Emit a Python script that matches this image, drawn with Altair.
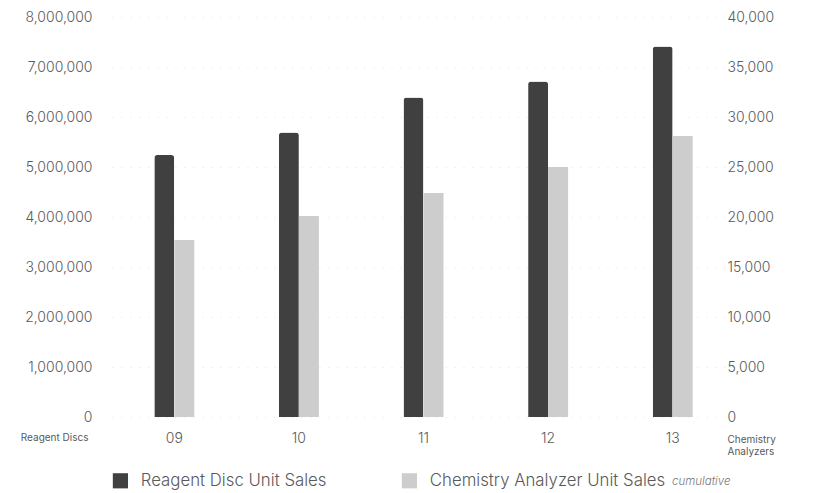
import altair as alt
import pandas as pd

years = ["09", "10", "11", "12", "13"]
reagent_discs = [5240000, 5690000, 6390000, 6710000, 7410000]
chem_analyzers = [17700, 20100, 22400, 25000, 28100]

series_names = ["Reagent Disc Unit Sales", "Chemistry Analyzer Unit Sales"]
series_colors = ["#404040", "#cdcdcd"]

df = pd.DataFrame({"year": years, "reagent": reagent_discs, "analyzers": chem_analyzers})

FONT = "Inter"
TXT = "#5a5a5a"

xenc = alt.X("year:N", sort=years,
             scale=alt.Scale(paddingInner=0, paddingOuter=0),
             axis=alt.Axis(title=None, labelAngle=0, domain=False, ticks=False, tickSize=0,
                           labelPadding=14, labelFontSize=14, labelFont=FONT,
                           labelColor=TXT, labelFontWeight=300))

color = alt.Color(scale=alt.Scale(domain=series_names, range=series_colors),
                  legend=alt.Legend(title=None, orient="none", legendX=0, legendY=455,
                                    direction="horizontal", symbolType="square",
                                    symbolSize=230, symbolStrokeWidth=0,
                                    labelFontSize=16.8, labelFont=FONT, labelColor=TXT,
                                    labelFontWeight=300, labelOffset=12, labelLimit=400,
                                    columnPadding=74))

bars_left = alt.Chart(df).mark_bar(width=20, xOffset=-10, cornerRadiusTopLeft=3,
                                   cornerRadiusTopRight=3).encode(
    x=xenc,
    y=alt.Y("reagent:Q", scale=alt.Scale(domain=[0, 8000000]),
            axis=alt.Axis(title="Reagent Discs", orient="left", values=list(range(0, 8000001, 1000000)),
                          format=",d", domain=False, ticks=False, tickSize=0,
                          labelPadding=20, labelFontSize=14, labelFont=FONT,
                          labelColor=TXT, labelFontWeight=300,
                          grid=True, gridColor="#e4e4e4", gridDash=[1, 8], gridWidth=1,
                          titleAngle=0, titleX=-24, titleY=420, titleAlign="right",
                          titleBaseline="middle", titleFontSize=10, titleFont=FONT,
                          titleFontWeight="normal", titleColor=TXT)),
    color=alt.datum(series_names[0]),
)

bars_right = alt.Chart(df).mark_bar(width=20, xOffset=10).encode(
    x=xenc,
    y=alt.Y("analyzers:Q", scale=alt.Scale(domain=[0, 40000]),
            axis=alt.Axis(title=["Chemistry", "Analyzers"], orient="right",
                          values=list(range(0, 40001, 5000)),
                          format=",d", domain=False, ticks=False, tickSize=0,
                          labelPadding=-8, labelFontSize=14, labelFont=FONT,
                          labelColor=TXT, labelFontWeight=300, grid=False,
                          titleAngle=0, titleX=-8, titleY=417, titleAlign="left",
                          titleBaseline="top", titleLineHeight=12,
                          titleFontSize=10, titleFont=FONT,
                          titleFontWeight="normal", titleColor=TXT)),
    color=alt.datum(series_names[1]),
)

note = alt.Chart(pd.DataFrame({"t": ["cumulative"]})).mark_text(
    align="left", baseline="middle", fontStyle="italic", fontSize=11.5,
    font=FONT, color="#777777", fontWeight=300
).encode(text="t:N", x=alt.value(560), y=alt.value(465))

chart = alt.layer(bars_left, bars_right, note).resolve_scale(
    y="independent"
).encode(color=color).properties(
    width=623, height=400,
    background="white",
    autosize=alt.AutoSizeParams(type="none"),
    padding={"left": 104, "top": 9, "right": 80, "bottom": 74},
).configure_view(strokeWidth=0, stroke="transparent")

chart.save("out.html", embed_options={"renderer": "svg", "actions": False})
